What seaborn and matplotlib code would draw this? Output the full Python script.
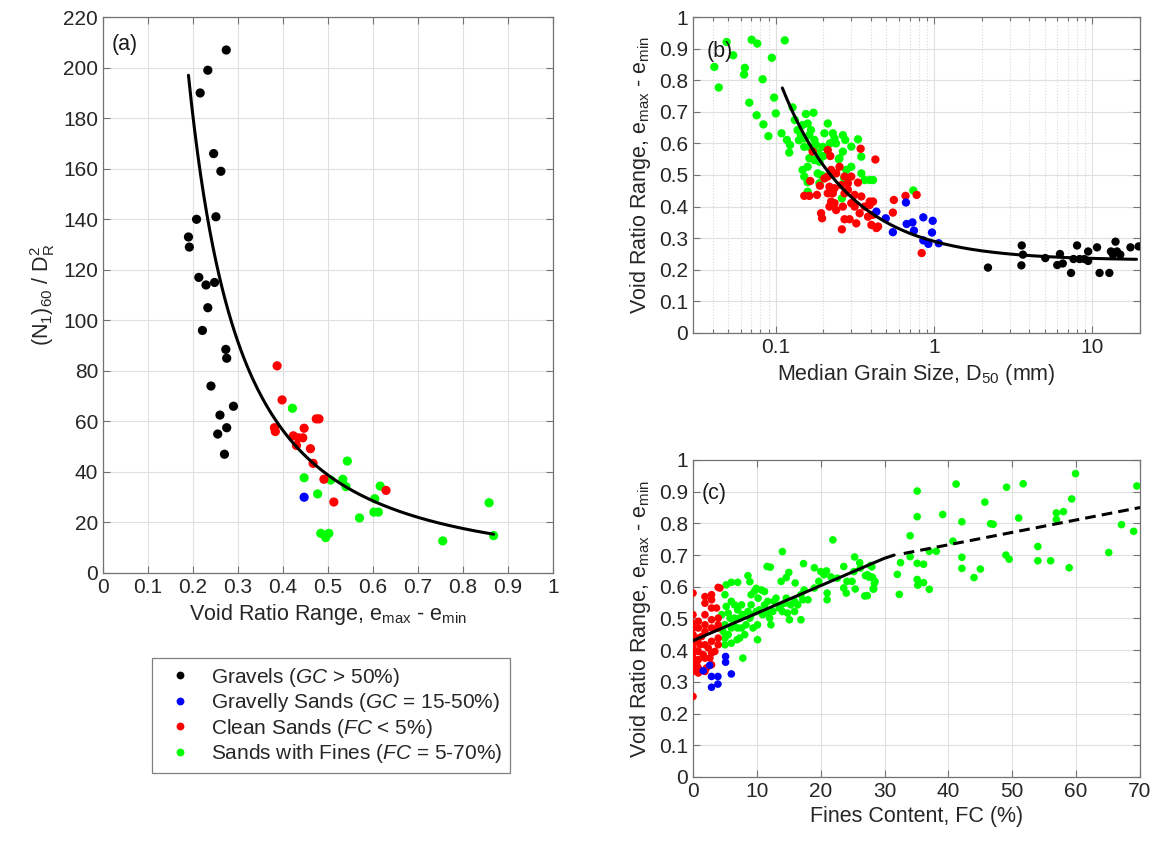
import numpy as np
import pandas as pd
import matplotlib
matplotlib.use("Agg")
import matplotlib.pyplot as plt
from matplotlib.ticker import NullFormatter
import seaborn as sns

sns.set_style("ticks")
plt.rcParams['font.family'] = ['Liberation Sans', 'DejaVu Sans']
plt.rcParams['mathtext.fontset'] = 'custom'
plt.rcParams['mathtext.rm'] = 'Liberation Sans'
plt.rcParams['mathtext.it'] = 'Liberation Sans:italic'
plt.rcParams['mathtext.default'] = 'regular'

# legend labels / colours (matlab style)
LABELS = ['Gravels ($\\mathit{GC}$ > 50%)',
          'Gravelly Sands ($\\mathit{GC}$ = 15-50%)',
          'Clean Sands ($\\mathit{FC}$ < 5%)',
          'Sands with Fines ($\\mathit{FC}$ = 5-70%)']
COLORS = ['#000000', '#0000ff', '#ff0000', '#00ff00']

# ---- (a) void ratio range vs (N1)60/DR^2
grav_a_e = [0.274, 0.233, 0.216, 0.246, 0.262, 0.208, 0.251, 0.190, 0.192, 0.213, 0.229,
            0.248, 0.233, 0.221, 0.273, 0.275, 0.240, 0.290, 0.260, 0.275, 0.255, 0.270]
grav_a_n = [207, 199, 190, 166, 159, 140, 141, 133, 129, 117, 114,
            115, 105, 96, 88.5, 85, 74, 66, 62.5, 57.5, 55, 47]
gsand_a_e = [0.447]
gsand_a_n = [30]
clean_a_e = [0.387, 0.398, 0.381, 0.383, 0.474, 0.480, 0.447, 0.423, 0.434, 0.444,
             0.430, 0.461, 0.467, 0.491, 0.513, 0.629]
clean_a_n = [82, 68.5, 57.5, 56, 61, 61, 57.3, 54.3, 53.5, 53.5,
             50.5, 49.2, 43.4, 37.1, 28.1, 32.7]
fines_a_e = [0.421, 0.447, 0.477, 0.506, 0.533, 0.540, 0.543, 0.616, 0.604, 0.602,
             0.612, 0.570, 0.484, 0.502, 0.495, 0.755, 0.858, 0.868]
fines_a_n = [65.2, 37.7, 31.3, 36.8, 37.1, 34.2, 44.3, 34.4, 29.4, 24.1,
             24.1, 21.8, 15.7, 15.7, 14, 12.7, 27.8, 14.8]
A_COEF, A_EXP, A_EMIN, A_EMAX = 12.1, 1.68, 0.19, 0.868

# ---- (b) D50 vs void ratio range
grav_b_d = [2.19, 3.58, 3.64, 3.56, 5.04, 6.24, 6.0, 6.5, 7.33, 7.6, 8.3, 8.9, 8.0, 9.4, 9.4,
            10.7, 11.1, 12.8, 13.1, 13.5, 14.0, 14.3, 15.0, 17.4, 19.6]
grav_b_e = [0.207, 0.277, 0.248, 0.214, 0.237, 0.25, 0.215, 0.22, 0.19, 0.234, 0.234, 0.234,
            0.277, 0.228, 0.258, 0.271, 0.19, 0.19, 0.258, 0.248, 0.289, 0.258, 0.248, 0.271, 0.274]
gsand_b_d = [0.432, 0.495, 0.549, 0.664, 0.671, 0.73, 0.746, 0.855, 0.855, 0.92, 0.97, 0.98, 1.07]
gsand_b_e = [0.384, 0.363, 0.319, 0.413, 0.345, 0.35, 0.324, 0.366, 0.293, 0.282, 0.318, 0.355, 0.284]
clean_b_d = [0.171, 0.213, 0.221, 0.2527, 0.2237, 0.2407, 0.2719, 0.2997, 0.3304, 0.213,
             0.2029, 0.165, 0.19, 0.1513, 0.1629, 0.182, 0.2183, 0.2349, 0.2589, 0.2855,
             0.213, 0.2292, 0.2719, 0.2855, 0.3148, 0.347, 0.392, 0.4116, 0.2237, 0.2349,
             0.2183, 0.2407, 0.2653, 0.2997, 0.3148, 0.3643, 0.392, 0.3386, 0.3825, 0.4116,
             0.2719, 0.2925, 0.3225, 0.4017, 0.4321, 0.4428, 0.1932, 0.196, 0.2615, 0.3436,
             0.4258, 0.557, 0.549, 0.66, 0.776, 0.835]
clean_b_e = [0.574, 0.579, 0.56, 0.526, 0.516, 0.505, 0.495, 0.495, 0.476, 0.495,
             0.489, 0.481, 0.466, 0.434, 0.434, 0.437, 0.463, 0.458, 0.468, 0.474,
             0.442, 0.442, 0.442, 0.453, 0.437, 0.432, 0.416, 0.416, 0.416, 0.411,
             0.4, 0.389, 0.4, 0.411, 0.4, 0.4, 0.405, 0.379, 0.368, 0.374,
             0.36, 0.36, 0.347, 0.342, 0.332, 0.337, 0.379, 0.363, 0.328, 0.583,
             0.549, 0.421, 0.381, 0.434, 0.437, 0.253]
fines_b_d = [0.0489, 0.0538, 0.0409, 0.0436, 0.0704, 0.0764, 0.114, 0.0944, 0.0638, 0.063,
             0.0826, 0.0976, 0.068, 0.1, 0.0757, 0.0835, 0.0898, 0.1087, 0.1175, 0.123,
             0.1216, 0.1276, 0.132, 0.155, 0.173, 0.1373, 0.1477, 0.159, 0.1669, 0.1442,
             0.1513, 0.1629, 0.1753, 0.1513, 0.1629, 0.1796, 0.198, 0.213, 0.2029, 0.2292,
             0.2349, 0.2653, 0.2746, 0.3304, 0.1629, 0.1753, 0.1886, 0.159, 0.1477, 0.1513,
             0.2527, 0.2653, 0.2997, 0.2786, 0.347, 0.347, 0.392, 0.4116, 0.3643, 0.184,
             0.1932, 0.2029, 0.1886, 0.159, 0.159, 0.2615, 0.739, 0.2, 0.22, 0.3,
             0.25, 0.27, 0.14, 0.185, 0.24]
fines_b_e = [0.921, 0.879, 0.842, 0.777, 0.928, 0.916, 0.926, 0.871, 0.839, 0.818,
             0.803, 0.745, 0.729, 0.695, 0.689, 0.66, 0.623, 0.632, 0.611, 0.595,
             0.571, 0.714, 0.674, 0.693, 0.697, 0.642, 0.658, 0.663, 0.642, 0.626,
             0.616, 0.626, 0.611, 0.589, 0.589, 0.595, 0.589, 0.663, 0.632, 0.632,
             0.616, 0.626, 0.611, 0.613, 0.553, 0.547, 0.542, 0.526, 0.516, 0.495,
             0.553, 0.574, 0.526, 0.516, 0.558, 0.505, 0.484, 0.484, 0.484, 0.505,
             0.5, 0.495, 0.474, 0.477, 0.447, 0.426, 0.451, 0.56, 0.6, 0.59,
             0.55, 0.49, 0.61, 0.57, 0.6]
B_OFFSET, B_COEF, B_DMIN, B_DMAX = 0.23, 0.06, 0.11, 19.0

# ---- (c) fines content vs void ratio range
clean_c_fc = [0, 0, 0, 0, 0, 0, 0, 0, 0, 0, 0, 0,
              0.83, 0.83, 0.83, 0.83, 0.83, 0.83, 0.83,
              1.87, 1.87, 1.87, 1.87, 1.87, 1.87, 1.87, 1.87,
              2.9, 2.9, 2.9, 2.9, 2.9, 2.9, 2.9, 2.9,
              3.94, 3.94, 3.94, 3.94, 3.94, 3.94,
              1.35, 2.38, 0.31, 1.09, 1.6, 2.64, 3.42, 3.68, 4.2, 0.57, 2.12]
clean_c_e = [0.58, 0.512, 0.485, 0.47, 0.449, 0.428, 0.407, 0.391, 0.375, 0.354, 0.333, 0.254,
             0.491, 0.47, 0.438, 0.396, 0.37, 0.344, 0.328,
             0.569, 0.548, 0.512, 0.48, 0.459, 0.417, 0.375, 0.333,
             0.575, 0.559, 0.533, 0.496, 0.47, 0.428, 0.391, 0.354,
             0.598, 0.501, 0.47, 0.438, 0.417, 0.48,
             0.443, 0.407, 0.428, 0.417, 0.386, 0.375, 0.396, 0.533, 0.596, 0.354, 0.344]
gsand_c_fc = [2.6, 2.9, 3.9, 2.9, 3.9, 5.1, 5.1, 6.0, 1.6]
gsand_c_e = [0.352, 0.317, 0.317, 0.283, 0.293, 0.38, 0.362, 0.325, 0.335]
fines_c_fc = [5.2, 6.0, 7.0, 8.6, 8.9, 9.9, 11.6, 12.1, 14.0, 13.8, 14.6, 15.0, 16.0, 17.3,
              19.0, 20.0, 20.9, 21.9, 23.6, 25.3, 26.1, 27.8, 27.0, 27.8, 28.5, 28.2, 24.9,
              23.6, 24.0, 25.4, 26.9, 21.0, 21.0, 20.5, 21.6, 22.6, 24.1, 25.2, 26.2, 27.3,
              5.0, 5.2, 5.5, 6.0, 6.5, 7.0, 7.6, 7.8, 8.3, 8.1, 7.0, 6.0, 5.0, 5.5, 5.0, 6.0,
              6.9, 7.8, 7.3, 9.1, 9.1, 10.2, 10.4, 11.2, 12.0, 12.2, 10.1, 10.1, 12.7, 13.5,
              14.6, 14.8, 15.1, 15.9, 16.9, 17.2, 18.0, 10.7, 11.2, 11.7, 13.0, 14.0, 15.3,
              16.4, 9.1, 9.6, 6.5, 4.5, 4.7, 5.0, 5.8, 6.3, 7.3, 7.6, 8.6, 8.9, 9.4, 9.9,
              10.9, 11.7, 12.5, 13.8, 14.3, 15.9, 16.9, 17.4, 19.0, 19.7,
              27.3, 27.6, 28.1, 28.4, 28.3, 28.0, 32.0, 32.3, 32.5, 34.0, 34.0, 35.1, 35.1,
              35.1, 36.1, 35.1, 35.2, 36.1, 37.0, 37.0, 38.1, 39.1, 40.7, 41.2, 42.1, 42.1,
              42.1, 44.0, 45.0, 45.7, 46.6, 47.0, 49.1, 49.0, 49.5, 51.0, 51.7, 54.0, 54.0,
              56.0, 56.9, 58.0, 56.9, 59.3, 58.9, 59.9, 65.1, 67.1, 69.0, 69.5]
fines_c_e = [0.606, 0.614, 0.614, 0.635, 0.616, 0.595, 0.664, 0.662, 0.711, 0.617, 0.629,
             0.645, 0.612, 0.673, 0.66, 0.648, 0.65, 0.748, 0.664, 0.694, 0.676, 0.667, 0.635,
             0.632, 0.617, 0.593, 0.617, 0.596, 0.58, 0.593, 0.571, 0.58, 0.559, 0.638, 0.631,
             0.627, 0.617, 0.648, 0.659, 0.638,
             0.575, 0.538, 0.517, 0.554, 0.501, 0.527, 0.543, 0.512, 0.48, 0.449, 0.47, 0.47,
             0.48, 0.449, 0.417, 0.422, 0.433, 0.375, 0.438, 0.543, 0.512, 0.564, 0.527,
             0.543, 0.501, 0.48, 0.48, 0.433, 0.554, 0.533, 0.564, 0.517, 0.496, 0.522,
             0.496, 0.559, 0.559, 0.59, 0.585, 0.554, 0.564, 0.522, 0.543, 0.543, 0.575,
             0.585, 0.543, 0.512, 0.459, 0.438, 0.501, 0.48, 0.501, 0.47, 0.522, 0.501,
             0.47, 0.522, 0.512, 0.517, 0.522, 0.543, 0.548, 0.554, 0.575, 0.59, 0.596, 0.617,
             0.572, 0.63, 0.63, 0.611, 0.593, 0.663, 0.639, 0.576, 0.676, 0.695, 0.761, 0.902,
             0.821, 0.674, 0.671, 0.623, 0.605, 0.613, 0.592, 0.712, 0.712, 0.828, 0.744,
             0.924, 0.805, 0.693, 0.658, 0.629, 0.656, 0.867, 0.799, 0.797, 0.914, 0.7, 0.687,
             0.817, 0.925, 0.727, 0.682, 0.682, 0.833, 0.837, 0.812, 0.877, 0.66, 0.957,
             0.708, 0.796, 0.775, 0.918]
# trend line: solid part, then dashed extrapolation
trend_c_fc = [0, 28, 30, 31.5]
trend_c_e = [0.43, 0.673, 0.69, 0.70]
dash_c_fc = [33, 70]
dash_c_e = [0.705, 0.85]


def make_df(groups):
    # groups given in drawing order (green first so black ends on top)
    frames = []
    for xs, ys, lab in groups:
        frames.append(pd.DataFrame({'x': xs, 'y': ys, 'group': lab}))
    return pd.concat(frames, ignore_index=True)


def matlab_axes(ax):
    for sp in ax.spines.values():
        sp.set_visible(True)
        sp.set_color('0.45')
        sp.set_linewidth(0.9)
    ax.tick_params(which='both', direction='in', top=True, right=True,
                   colors='0.45', labelcolor='0.15', labelsize=15, width=0.8)
    ax.tick_params(which='major', length=5)
    ax.tick_params(which='minor', length=3)
    ax.grid(True, which='major', color='0.88', linewidth=0.8)
    ax.set_axisbelow(True)


palette = dict(zip(LABELS, COLORS))
fig = plt.figure(figsize=(11.62, 8.46), dpi=100)
ax_a = fig.add_axes([0.0886, 0.3227, 0.3873, 0.657])
ax_b = fig.add_axes([0.5964, 0.6064, 0.3847, 0.3735])
ax_c = fig.add_axes([0.5964, 0.0816, 0.3847, 0.3747])

# (a)
df_a = make_df([(fines_a_e, fines_a_n, LABELS[3]), (clean_a_e, clean_a_n, LABELS[2]),
                (gsand_a_e, gsand_a_n, LABELS[1]), (grav_a_e, grav_a_n, LABELS[0])])
sns.scatterplot(data=df_a, x='x', y='y', hue='group', hue_order=LABELS, palette=palette,
                s=44, linewidth=0, ax=ax_a, legend=True, zorder=3)
e_fit = np.linspace(A_EMIN, A_EMAX, 200)
ax_a.plot(e_fit, A_COEF / e_fit ** A_EXP, color='black', lw=2.2, zorder=4)
matlab_axes(ax_a)
ax_a.set_xlim(0, 1)
ax_a.set_ylim(0, 220)
ax_a.set_xticks(np.arange(0, 1.01, 0.1))
ax_a.set_xticklabels(['0', '0.1', '0.2', '0.3', '0.4', '0.5', '0.6', '0.7', '0.8', '0.9', '1'])
ax_a.set_yticks(np.arange(0, 221, 20))
ax_a.set_xlabel('Void Ratio Range, e$_{max}$ - e$_{min}$', fontsize=15.5, color='0.15')
ax_a.set_ylabel('(N$_1$)$_{60}$ / D$_R^2$', fontsize=15.5, color='0.15')
ax_a.text(0.02, 0.95, '(a)', transform=ax_a.transAxes, fontsize=15.5, va='center', color='0.1')
sns.move_legend(ax_a, 'upper left', bbox_to_anchor=(0.085, -0.135), title=None,
                frameon=True, fancybox=False, framealpha=1, edgecolor='0.5',
                fontsize=15, handletextpad=0.5, labelspacing=0.12, borderpad=0.35,
                handlelength=2.0, markerscale=0.85)
ax_a.get_legend().get_frame().set_linewidth(0.9)

# (b)
df_b = make_df([(fines_b_d, fines_b_e, LABELS[3]), (clean_b_d, clean_b_e, LABELS[2]),
                (gsand_b_d, gsand_b_e, LABELS[1]), (grav_b_d, grav_b_e, LABELS[0])])
sns.scatterplot(data=df_b, x='x', y='y', hue='group', hue_order=LABELS, palette=palette,
                s=36, linewidth=0, ax=ax_b, legend=False, zorder=3)
d_fit = np.logspace(np.log10(B_DMIN), np.log10(B_DMAX), 200)
ax_b.plot(d_fit, B_OFFSET + B_COEF / d_fit, color='black', lw=2.2, zorder=4)
ax_b.set_xscale('log')
matlab_axes(ax_b)
ax_b.grid(True, which='minor', axis='x', color='0.85', linestyle=':', linewidth=0.8)
ax_b.set_xlim(0.03, 20)
ax_b.set_ylim(0, 1)
ax_b.set_xticks([0.1, 1, 10])
ax_b.set_xticklabels(['0.1', '1', '10'])
ax_b.xaxis.set_minor_formatter(NullFormatter())
ax_b.set_yticks(np.arange(0, 1.01, 0.1))
ax_b.set_yticklabels(['0', '0.1', '0.2', '0.3', '0.4', '0.5', '0.6', '0.7', '0.8', '0.9', '1'])
ax_b.set_xlabel('Median Grain Size, D$_{50}$ (mm)', fontsize=15.5, color='0.15')
ax_b.set_ylabel('Void Ratio Range, e$_{max}$ - e$_{min}$', fontsize=15.5, color='0.15')
ax_b.text(0.03, 0.89, '(b)', transform=ax_b.transAxes, fontsize=15.5, va='center', color='0.1')

# (c)
df_c = make_df([(fines_c_fc, fines_c_e, LABELS[3]), (clean_c_fc, clean_c_e, LABELS[2]),
                (gsand_c_fc, gsand_c_e, LABELS[1])])
sns.scatterplot(data=df_c, x='x', y='y', hue='group', hue_order=LABELS, palette=palette,
                s=30, linewidth=0, ax=ax_c, legend=False, zorder=3)
ax_c.plot(trend_c_fc, trend_c_e, color='black', lw=2.2, zorder=4)
ax_c.plot(dash_c_fc, dash_c_e, color='black', lw=2.2, dashes=(3.5, 2.0), zorder=4)
matlab_axes(ax_c)
ax_c.set_xlim(0, 70)
ax_c.set_ylim(0, 1)
ax_c.set_xticks(np.arange(0, 71, 10))
ax_c.set_yticks(np.arange(0, 1.01, 0.1))
ax_c.set_yticklabels(['0', '0.1', '0.2', '0.3', '0.4', '0.5', '0.6', '0.7', '0.8', '0.9', '1'])
ax_c.set_xlabel('Fines Content, FC (%)', fontsize=15.5, color='0.15')
ax_c.set_ylabel('Void Ratio Range, e$_{max}$ - e$_{min}$', fontsize=15.5, color='0.15')
ax_c.text(0.02, 0.893, '(c)', transform=ax_c.transAxes, fontsize=15.5, va='center', color='0.1')

fig.savefig('out.png', dpi=100)
